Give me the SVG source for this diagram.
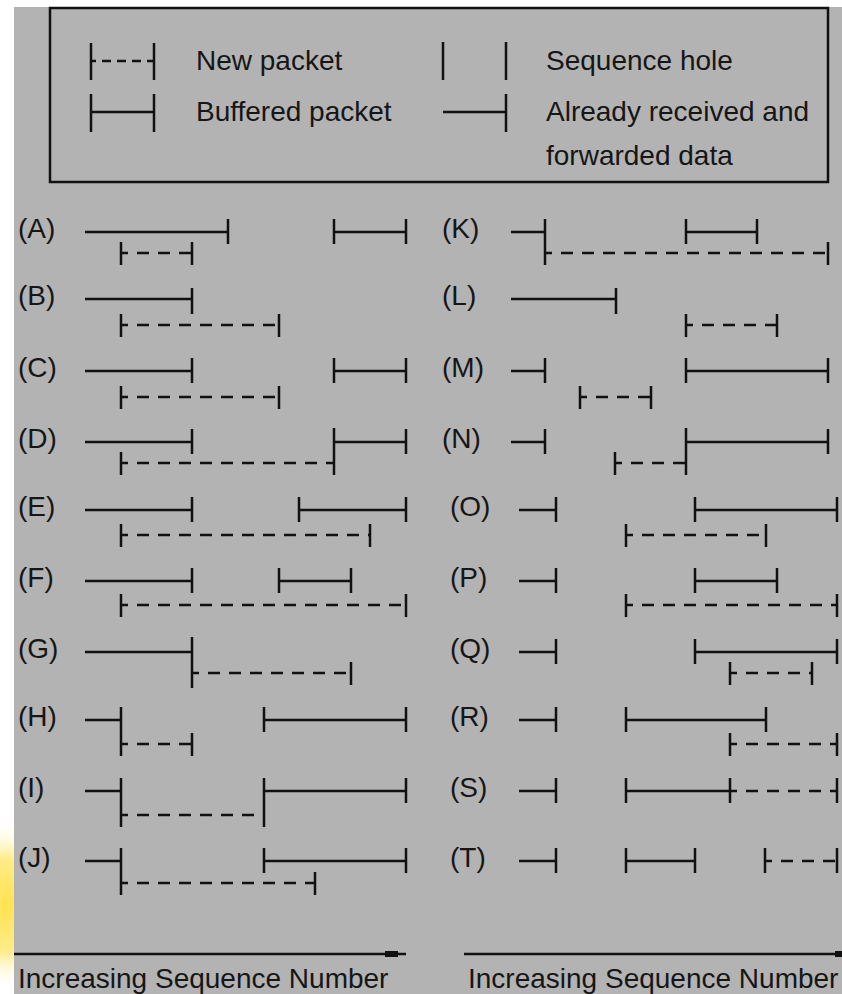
<svg xmlns="http://www.w3.org/2000/svg" width="842" height="994" viewBox="0 0 842 994">
<style>
.ln{stroke:#111;stroke-width:2.5;fill:none;stroke-linecap:butt}
.d{stroke:#111;stroke-width:2.5;fill:none;stroke-dasharray:12 9;stroke-dashoffset:5}
.ld{stroke:#111;stroke-width:2.5;fill:none;stroke-dasharray:9 6;stroke-dashoffset:4}
text{font-family:"Liberation Sans",Arial,sans-serif;font-size:28px;fill:#161616}
</style>
<defs>
<radialGradient id="glow" cx="0.5" cy="0.5" r="0.5">
<stop offset="0" stop-color="#ffe24e"/>
<stop offset="0.55" stop-color="#ffec8a"/>
<stop offset="1" stop-color="#ffffff" stop-opacity="0"/>
</radialGradient>
</defs>
<rect x="0" y="0" width="842" height="994" fill="#ffffff"/>
<ellipse cx="6" cy="905" rx="40" ry="85" fill="url(#glow)"/>
<rect x="14" y="7" width="828" height="987" fill="#b3b3b3"/>

<g id="legend">
<rect x="50" y="8" width="778" height="174" class="ln"/>
<path class="ln" d="M91 43V80M154 43V80"/>
<path class="ld" d="M91 61H154"/>
<text x="196" y="70">New packet</text>
<path class="ln" d="M91 112H154M91 94V132M154 94V132"/>
<text x="196" y="121">Buffered packet</text>
<path class="ln" d="M443 42V80M506 42V80"/>
<text x="546" y="70">Sequence hole</text>
<path class="ln" d="M443 112H506M506 94V132"/>
<text x="546" y="121">Already received and</text>
<text x="546" y="165">forwarded data</text>
</g>

<g id="row-A"><text x="18" y="238">(A)</text>
<path class="ln" d="M85 232H228M228 219V244M334 232H406M334 219V244M406 219V244M121 242V265M192 242V265"/>
<path class="d" d="M121 253H192"/></g>
<g id="row-B"><text x="18" y="305">(B)</text>
<path class="ln" d="M85 299H192M192 288V314M121 314V337M279 314V337"/>
<path class="d" d="M121 325H279"/></g>
<g id="row-C"><text x="18" y="377">(C)</text>
<path class="ln" d="M85 371H192M192 358V383M334 371H406M334 358V383M406 358V383M121 386V409M279 386V409"/>
<path class="d" d="M121 397H279"/></g>
<g id="row-D"><text x="18" y="448">(D)</text>
<path class="ln" d="M85 442H192M192 429V454M334 442H406M334 428V475M406 429V454M121 452V475"/>
<path class="d" d="M121 463H334"/></g>
<g id="row-E"><text x="18" y="516">(E)</text>
<path class="ln" d="M85 510H192M192 497V522M299 510H406M299 497V522M406 497V522M121 524V547M370 524V547"/>
<path class="d" d="M121 535H370"/></g>
<g id="row-F"><text x="18" y="587">(F)</text>
<path class="ln" d="M85 581H192M192 568V593M279 581H351M279 568V593M351 568V593M121 594V617M406 594V617"/>
<path class="d" d="M121 605H406"/></g>
<g id="row-G"><text x="18" y="658">(G)</text>
<path class="ln" d="M85 652H192M192 637V688M351 662V685"/>
<path class="d" d="M192 673H351"/></g>
<g id="row-H"><text x="18" y="726">(H)</text>
<path class="ln" d="M85 720H121M121 707V756M192 733V756M264 720H406M264 707V732M406 707V732"/>
<path class="d" d="M121 744H192"/></g>
<g id="row-I"><text x="18" y="797">(I)</text>
<path class="ln" d="M85 791H121M121 778V827M264 791H406M264 778V827M406 778V803"/>
<path class="d" d="M121 815H264"/></g>
<g id="row-J"><text x="18" y="867">(J)</text>
<path class="ln" d="M85 861H121M121 848V895M264 861H406M264 848V873M406 848V873M315 872V895"/>
<path class="d" d="M121 883H315"/></g>

<g id="row-K"><text x="442" y="238">(K)</text>
<path class="ln" d="M511 232H545M545 219V265M686 232H757M686 219V244M757 219V244M828 242V265"/>
<path class="d" d="M545 253H828"/></g>
<g id="row-L"><text x="442" y="305">(L)</text>
<path class="ln" d="M511 299H616M616 288V314M686 314V337M777 314V337"/>
<path class="d" d="M686 325H777"/></g>
<g id="row-M"><text x="442" y="377">(M)</text>
<path class="ln" d="M511 371H545M545 358V383M686 371H828M686 358V383M828 358V383M580 386V409M651 386V409"/>
<path class="d" d="M580 397H651"/></g>
<g id="row-N"><text x="442" y="448">(N)</text>
<path class="ln" d="M511 442H545M545 429V454M686 442H828M686 428V475M828 429V454M615 452V475"/>
<path class="d" d="M615 463H686"/></g>
<g id="row-O"><text x="450" y="516">(O)</text>
<path class="ln" d="M519 510H556M556 497V522M695 510H837M695 497V522M837 497V522M626 524V547M766 524V547"/>
<path class="d" d="M626 535H766"/></g>
<g id="row-P"><text x="450" y="587">(P)</text>
<path class="ln" d="M519 581H556M556 568V593M695 581H777M695 568V593M777 568V593M626 594V617M837 594V617"/>
<path class="d" d="M626 605H837"/></g>
<g id="row-Q"><text x="450" y="658">(Q)</text>
<path class="ln" d="M519 652H556M556 639V664M695 652H837M695 639V664M837 639V664M730 662V685M812 662V685"/>
<path class="d" d="M730 673H812"/></g>
<g id="row-R"><text x="450" y="726">(R)</text>
<path class="ln" d="M519 720H556M556 707V732M626 720H766M626 707V732M766 707V732M730 733V756M837 733V756"/>
<path class="d" d="M730 744H837"/></g>
<g id="row-S"><text x="450" y="797">(S)</text>
<path class="ln" d="M519 791H556M556 778V803M626 791H730M626 778V803M730 778V803M837 778V803"/>
<path class="d" d="M730 791H837"/></g>
<g id="row-T"><text x="450" y="867">(T)</text>
<path class="ln" d="M519 861H556M556 848V873M626 861H695M626 848V873M695 848V873M765 848V873M837 848V873"/>
<path class="d" d="M765 861H837"/></g>

<g id="axes">
<path class="ln" d="M14 954H406M464 954H842"/>
<rect x="385" y="951" width="13" height="6" fill="#111"/>
<rect x="835" y="951" width="7" height="6" fill="#111"/>
<text x="18" y="988">Increasing Sequence Number</text>
<text x="468" y="988">Increasing Sequence Number</text>
</g>
</svg>
